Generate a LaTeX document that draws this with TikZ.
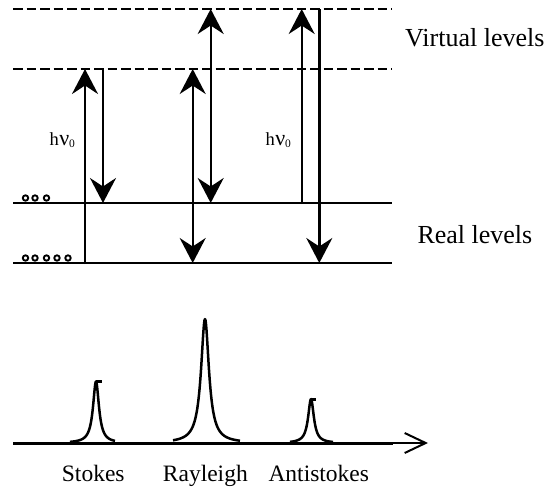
\documentclass[tikz,border=0pt]{standalone}
\usepackage{fontspec}
\setmainfont{Liberation Serif}
\usetikzlibrary{arrows.meta}
\begin{document}
\begin{tikzpicture}[x=1pt,y=-1pt,
  >={Stealth[length=25pt,width=26pt,inset=8.5pt]},
  realline/.style={line width=2.4pt},
  virtline/.style={line width=2.4pt,dash pattern=on 9.5pt off 4pt},
  trans/.style={line width=2.4pt},
  dot/.style={line width=1.9pt},
  peak/.style={line width=2.5pt,line join=round},
  axisline/.style={line width=3pt},
  biglabel/.style={anchor=base west,inner sep=0pt,font=\fontsize{26}{30}\selectfont},
  speclabel/.style={anchor=base west,inner sep=0pt,font=\fontsize{23.5}{28}\selectfont},
  hnulabel/.style={anchor=base west,inner sep=0pt,font=\fontsize{18.5}{20}\selectfont}]
\useasboundingbox (0,0) rectangle (549,488);

% energy levels
\coordinate (v1L) at (13,9);    \coordinate (v1R) at (392,9);
\coordinate (v0L) at (13,69);   \coordinate (v0R) at (392,69);
\coordinate (r1L) at (13,203);  \coordinate (r1R) at (392,203);
\coordinate (r0L) at (13,263);  \coordinate (r0R) at (392,263);
\draw[virtline] (v1L) -- (v1R);
\draw[virtline] (v0L) -- (v0R);
\draw[realline] (r1L) -- (r1R);
\draw[realline] (r0L) -- (r0R);

% populations
\foreach \px in {25.5,35,46.5} \draw[dot] (\px,198) circle (2.7);
\foreach \px in {25.5,35,46.5,57,68} \draw[dot] (\px,258) circle (2.7);

% Stokes transitions
\coordinate (sa0) at (85,264);  \coordinate (sa1) at (85,69);
\coordinate (sb0) at (103,69);  \coordinate (sb1) at (103,203);
\draw[trans,->] (sa0) -- (sa1);
\draw[trans,->] (sb0) -- (sb1);

% Rayleigh transitions
\coordinate (ra0) at (192.7,69);  \coordinate (ra1) at (192.7,263);
\coordinate (rb0) at (210.7,9);   \coordinate (rb1) at (210.7,203);
\draw[trans,<->] (ra0) -- (ra1);
\draw[trans,<->] (rb0) -- (rb1);

% anti-Stokes transitions
\coordinate (aa0) at (301.7,204); \coordinate (aa1) at (301.7,9);
\coordinate (ab0) at (319.3,9);   \coordinate (ab1) at (319.3,263);
\draw[trans,->] (aa0) -- (aa1);
\draw[trans,->] (ab0) -- (ab1);

% labels of the level diagram
\node[hnulabel] (hn1) at (49.5,145) {h\kern0.3pt{\fontsize{22}{22}\selectfont ν}\raisebox{-2.5pt}{\fontsize{11.5}{12}\selectfont 0}};
\node[hnulabel] (hn2) at (265.5,145) {h\kern0.3pt{\fontsize{22}{22}\selectfont ν}\raisebox{-2.5pt}{\fontsize{11.5}{12}\selectfont 0}};
\node[biglabel] (virt) at (405,46.7) {Virtual levels};
\node[biglabel] (real) at (417.3,243.3) {Real levels};

% spectrum axis
\coordinate (ax0) at (13,443);
\coordinate (ax1) at (393,443);
\coordinate (ax2) at (428,443);
\draw[axisline] (ax0) -- (ax1);
\draw[line width=1.4pt,-{Straight Barb[length=21pt,width=20pt,line width=2pt]}] (ax1) -- (ax2);

% spectral lines
\draw[peak] plot[domain=-26:19,samples=151] ({96+\x},{443-61.5*13/(\x*\x+13)});
\draw[peak] (96,381.5) -- (101.5,381.5);
\draw[peak] plot[domain=-32:35,samples=201] ({205+\x},{443-124*23/(\x*\x+23)});
\draw[peak] plot[domain=-21:22,samples=151] ({311+\x},{443-44*12/(\x*\x+12)});
\draw[peak] (311,399.3) -- (316,399.3);

% spectrum labels
\node[speclabel] (stk) at (61.7,481.5) {Stokes};
\node[speclabel] (ray) at (162.7,481.5) {Rayleigh};
\node[speclabel] (ast) at (268.3,481.5) {Antistokes};
\end{tikzpicture}
\end{document}
